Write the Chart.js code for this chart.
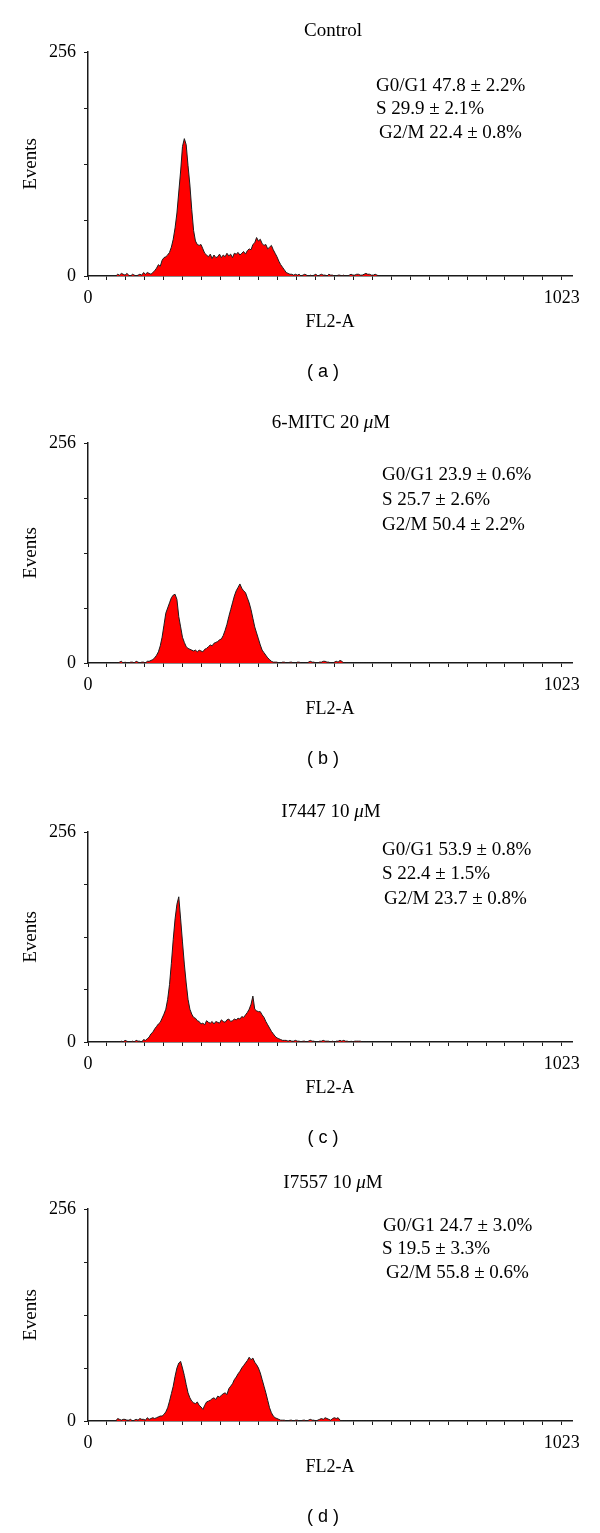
<!DOCTYPE html>
<html>
<head>
<meta charset="utf-8">
<script src="https://cdn.jsdelivr.net/npm/chart.js@4.4.0/dist/chart.umd.min.js"></script>
<style>
  html, body { margin: 0; padding: 0; background: #fff; }
  #page { position: relative; width: 600px; height: 1533px; overflow: hidden; }
  .panel { position: absolute; left: 0; width: 600px; }
</style>
</head>
<body>
<div id="page"></div>
<script>
// histogram channels: first bin and bin width (FL2-A channels)
const binStart = 48;
const binWidth = 4;
const xMax = 1045;
const xLastTick = 1023;
const xTickLabels = ["0", "1023"];
const yTickLabels = ["0", "256"];
const panelLetters = ["( a )", "( b )", "( c )", "( d )"];

// title pieces: [text, italic]
const panelTitles = [
    [["Control", false]],
    [["6-MITC 20 ", false], ["\u03bc", true], ["M", false]],
    [["I7447 10 ", false], ["\u03bc", true], ["M", false]],
    [["I7557 10 ", false], ["\u03bc", true], ["M", false]]
];

const controlStats = ["G0/G1 47.8 \u00b1 2.2%", "S 29.9 \u00b1 2.1%", "G2/M 22.4 \u00b1 0.8%"];
const mitcStats = ["G0/G1 23.9 \u00b1 0.6%", "S 25.7 \u00b1 2.6%", "G2/M 50.4 \u00b1 2.2%"];
const i7447Stats = ["G0/G1 53.9 \u00b1 0.8%", "S 22.4 \u00b1 1.5%", "G2/M 23.7 \u00b1 0.8%"];
const i7557Stats = ["G0/G1 24.7 \u00b1 3.0%", "S 19.5 \u00b1 3.3%", "G2/M 55.8 \u00b1 0.6%"];

// event counts per bin, channels 48, 52, ... 636
const controlCounts = [
    0, 0, 0, 0, 2, 1, 3, 2, 1, 3, 1, 0, 2, 1, 0, 1, 2, 1, 4, 2,
    4, 3, 2, 4, 6, 9, 13, 11, 18, 21, 22, 24, 27, 33, 42, 55, 72, 96, 120, 148,
    157, 150, 126, 104, 76, 52, 40, 36, 35, 36, 31, 26, 24, 22, 25, 20, 24, 21, 22, 25,
    21, 24, 22, 26, 23, 25, 21, 26, 25, 27, 24, 26, 28, 25, 29, 31, 30, 36, 38, 44,
    40, 42, 37, 35, 36, 31, 33, 35, 30, 26, 22, 17, 13, 10, 7, 4, 3, 2, 2, 1,
    2, 1, 2, 0, 1, 2, 1, 0, 1, 0, 1, 2, 0, 1, 2, 1, 1, 0, 2, 1,
    1, 0, 0, 1, 1, 0, 1, 0, 0, 1, 2, 1, 1, 2, 2, 1, 1, 2, 3, 2,
    2, 1, 1, 2, 1, 0, 0, 0
];
const mitcCounts = [
    0, 0, 0, 0, 0, 1, 2, 0, 1, 0, 0, 1, 1, 0, 2, 1, 0, 1, 1, 0,
    2, 2, 3, 4, 6, 9, 13, 20, 30, 44, 58, 64, 70, 76, 79, 80, 74, 54, 42, 30,
    24, 19, 17, 16, 15, 14, 15, 13, 15, 14, 13, 16, 17, 19, 21, 20, 23, 24, 25, 27,
    28, 32, 38, 45, 54, 62, 70, 78, 84, 88, 92, 87, 84, 82, 76, 70, 62, 52, 42, 35,
    28, 21, 15, 12, 9, 6, 4, 2, 1, 1, 1, 0, 0, 1, 1, 0, 0, 1, 1, 0,
    0, 1, 1, 0, 0, 0, 0, 1, 2, 1, 1, 0, 0, 1, 1, 2, 2, 1, 1, 0,
    0, 1, 2, 1, 3, 2, 0, 0, 0, 0, 0, 0, 0, 0, 0, 0, 0, 0, 0, 0,
    0, 0, 0, 0, 0, 0, 0, 0
];
const i7447Counts = [
    0, 0, 0, 0, 0, 0, 1, 0, 2, 1, 0, 0, 1, 0, 2, 1, 1, 0, 3, 2,
    4, 6, 10, 12, 16, 19, 22, 24, 29, 34, 40, 52, 70, 96, 125, 150, 168, 177, 150, 122,
    95, 72, 52, 40, 34, 30, 29, 26, 25, 22, 23, 21, 26, 24, 23, 25, 22, 25, 24, 23,
    27, 25, 24, 27, 28, 25, 26, 28, 27, 29, 28, 31, 30, 33, 36, 40, 46, 56, 40, 38,
    37, 37, 33, 30, 25, 21, 17, 13, 10, 7, 5, 4, 3, 2, 2, 2, 1, 2, 1, 1,
    2, 1, 1, 0, 1, 1, 0, 1, 2, 1, 1, 0, 0, 1, 1, 2, 1, 1, 1, 0,
    1, 0, 1, 1, 2, 1, 2, 1, 1, 0, 1, 0, 1, 1, 1, 1, 0, 0, 0, 0,
    0, 0, 0, 0, 0, 0, 0, 0
];
const i7557Counts = [
    0, 0, 0, 0, 3, 2, 1, 2, 2, 1, 1, 2, 0, 1, 2, 1, 3, 2, 2, 1,
    4, 2, 3, 4, 3, 4, 5, 6, 6, 8, 11, 16, 24, 33, 42, 54, 64, 70, 72, 64,
    55, 44, 34, 28, 24, 22, 21, 23, 19, 17, 14, 19, 23, 24, 25, 27, 28, 26, 30, 29,
    31, 33, 34, 32, 39, 42, 45, 50, 53, 57, 60, 64, 67, 70, 73, 77, 74, 76, 71, 68,
    64, 58, 50, 42, 34, 25, 16, 10, 6, 4, 3, 2, 1, 1, 1, 0, 0, 1, 1, 0,
    1, 1, 0, 0, 1, 1, 0, 1, 2, 1, 1, 0, 1, 2, 3, 2, 4, 3, 2, 1,
    3, 4, 3, 4, 1, 0, 0, 0, 0, 0, 0, 0, 0, 0, 0, 0, 0, 0, 0, 0,
    0, 0, 0, 0, 0, 0, 0, 0
];

const panelCounts = [controlCounts, mitcCounts, i7447Counts, i7557Counts];
const panelStats = [controlStats, mitcStats, i7447Stats, i7557Stats];

// page layout of each panel (pixels)
const panelBoxes = [
    { axisTop: 52, zero: 276, titleGap: 21, titleX: 333, statsGap: 34, statsStep: 23.5, statsX: [376, 376, 379] },
    { axisTop: 443, zero: 663, titleGap: 20, titleX: 331, statsGap: 32, statsStep: 25, statsX: [382, 382, 382] },
    { axisTop: 832, zero: 1042, titleGap: 20, titleX: 331, statsGap: 18, statsStep: 24.5, statsX: [382, 382, 384] },
    { axisTop: 1209, zero: 1421, titleGap: 26, titleX: 333, statsGap: 17, statsStep: 23.5, statsX: [383, 382, 386] }
];

const PAD_TOP = 50;
const X_AXIS_H = 60;
const PAD_BOTTOM = 64;
const serif = "'Liberation Serif', 'Times New Roman', serif";
const axisColor = "#1a1a1a";

const panelText = {
    id: "panelText",
    afterDraw(chart, args, opts) {
        const ctx = chart.ctx;
        const area = chart.chartArea;
        ctx.save();
        ctx.fillStyle = "#000";
        ctx.textBaseline = "middle";
        ctx.textAlign = "left";

        // title, with italic mu
        let total = 0;
        opts.title.forEach(([t, it]) => {
            ctx.font = (it ? "italic " : "") + "19px " + serif;
            total += ctx.measureText(t).width;
        });
        let x = opts.titleX - total / 2;
        const ty = area.top - opts.titleGap;
        opts.title.forEach(([t, it]) => {
            ctx.font = (it ? "italic " : "") + "19px " + serif;
            ctx.fillText(t, x, ty);
            x += ctx.measureText(t).width;
        });

        // phase percentages
        ctx.font = "19px " + serif;
        opts.stats.forEach((line, k) => {
            ctx.fillText(line, opts.statsX[k], area.top + opts.statsGap + k * opts.statsStep);
        });

        // panel letter
        ctx.textAlign = "center";
        ctx.font = "18px 'Liberation Sans', Arial, sans-serif";
        ctx.fillText(opts.letter, 323, area.bottom + 96);
        ctx.restore();
    }
};

function buildPanel(i) {
    const box = panelBoxes[i];
    const plotH = box.zero - box.axisTop;
    const wrap = document.createElement("div");
    wrap.className = "panel";
    wrap.style.top = (box.axisTop - PAD_TOP) + "px";
    wrap.style.height = (plotH + PAD_TOP + X_AXIS_H + PAD_BOTTOM) + "px";
    const canvas = document.createElement("canvas");
    wrap.appendChild(canvas);
    document.getElementById("page").appendChild(wrap);

    const points = panelCounts[i].map((v, k) => ({ x: binStart + k * binWidth, y: v }));

    new Chart(canvas, {
        type: "line",
        data: {
            datasets: [{
                data: points,
                fill: "origin",
                backgroundColor: "#ff0000",
                borderColor: "#1c1c1c",
                borderWidth: 1,
                pointRadius: 0,
                tension: 0
            }]
        },
        options: {
            responsive: true,
            maintainAspectRatio: false,
            animation: false,
            layout: { padding: { top: PAD_TOP, bottom: PAD_BOTTOM, left: 0, right: 28 } },
            plugins: {
                legend: { display: false },
                tooltip: { enabled: false },
                panelText: {
                    title: panelTitles[i],
                    titleX: box.titleX,
                    titleGap: box.titleGap,
                    stats: panelStats[i],
                    statsX: box.statsX,
                    statsGap: box.statsGap,
                    statsStep: box.statsStep,
                    letter: panelLetters[i]
                }
            },
            scales: {
                x: {
                    type: "linear",
                    min: 0,
                    max: xMax,
                    afterBuildTicks: s => {
                        s.ticks = [];
                        for (let k = 0; k <= 25; k++) s.ticks.push({ value: k * xLastTick / 25 });
                    },
                    afterFit: s => { s.height = X_AXIS_H; },
                    grid: { drawOnChartArea: false, drawTicks: true, tickLength: 4, color: axisColor, lineWidth: 1 },
                    border: { display: true, color: axisColor, width: 1.5 },
                    ticks: {
                        autoSkip: false,
                        maxRotation: 0,
                        padding: 7,
                        color: "#000",
                        font: { family: serif, size: 18 },
                        callback: v => v === 0 ? xTickLabels[0] : (Math.abs(v - xLastTick) < 0.5 ? xTickLabels[1] : "")
                    },
                    title: {
                        display: true,
                        text: "FL2-A",
                        color: "#000",
                        font: { family: serif, size: 18 },
                        padding: { top: 0, bottom: 3 }
                    }
                },
                y: {
                    min: 0,
                    max: 256,
                    afterFit: s => { s.width = 88; },
                    grid: { drawOnChartArea: false, drawTicks: true, tickLength: 4, color: axisColor, lineWidth: 1 },
                    border: { display: true, color: axisColor, width: 1.5 },
                    ticks: {
                        stepSize: 64,
                        padding: 8,
                        color: "#000",
                        font: { family: serif, size: 18 },
                        callback: v => v === 0 ? yTickLabels[0] : (v === 256 ? yTickLabels[1] : "")
                    },
                    title: {
                        display: true,
                        text: "Events",
                        color: "#000",
                        font: { family: serif, size: 19 },
                        padding: { top: 20, bottom: 0 }
                    }
                }
            }
        },
        plugins: [panelText]
    });
}

for (let i = 0; i < 4; i++) buildPanel(i);
</script>
</body>
</html>
